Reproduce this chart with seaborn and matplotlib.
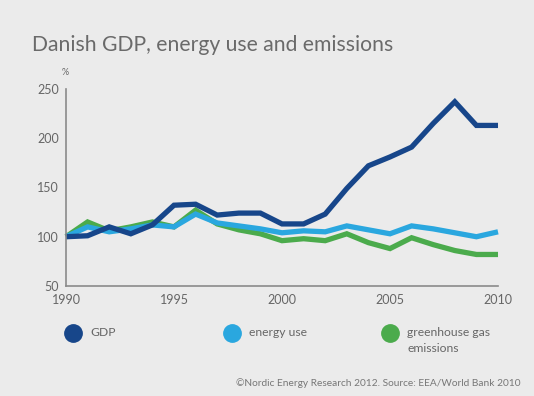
import matplotlib
matplotlib.use("Agg")
import matplotlib.pyplot as plt
import pandas as pd
import seaborn as sns
from matplotlib.lines import Line2D

# Данные (индекс, 1990 = 100)
years = list(range(1990, 2011))
gdp = [100, 101, 110, 103, 112, 132, 133, 122, 124, 124, 113,
       113, 123, 149, 172, 181, 191, 215, 237, 213, 213]
energy_use = [100, 110, 105, 108, 112, 110, 123, 114, 111, 108, 104,
              106, 105, 111, 107, 103, 111, 108, 104, 100, 105]
emissions = [100, 115, 106, 110, 115, 110, 127, 113, 107, 103, 96,
             98, 96, 103, 94, 88, 99, 92, 86, 82, 82]

series_names = ["GDP", "energy use", "greenhouse gas\nemissions"]
series_colors = ["#17468a", "#2aa7df", "#4bab4c"]

BG = "#ebebeb"
TXT = "#666666"


def build_frame():
    rows = []
    for name, vals in zip(series_names, [gdp, energy_use, emissions]):
        for y, v in zip(years, vals):
            rows.append({"year": y, "value": v, "series": name})
    return pd.DataFrame(rows)


def plot_chart(df):
    sns.set_theme(style="white")
    plt.rcParams["font.family"] = ["Lato", "DejaVu Sans"]

    fig = plt.figure(figsize=(5.34, 3.96), dpi=100, facecolor=BG)
    ax = fig.add_axes([0.1236, 0.2778, 0.809, 0.4975])
    ax.set_facecolor(BG)

    # рисуем в обратном порядке, чтобы GDP был сверху
    order = series_names[::-1]
    pal = dict(zip(series_names, series_colors))
    sns.lineplot(data=df, x="year", y="value", hue="series", hue_order=order,
                 palette=pal, linewidth=3.8, ax=ax, legend=False)
    for ln in ax.lines:
        ln.set_solid_joinstyle("miter")
        ln.set_solid_capstyle("butt")
        ln.set_clip_on(False)

    ax.set_xlim(1990, 2010)
    ax.set_ylim(50, 250)
    ax.set_xticks([1990, 1995, 2000, 2005, 2010])
    ax.set_yticks([50, 100, 150, 200, 250])
    ax.set_xlabel("")
    ax.set_ylabel("")

    for s in ["top", "right"]:
        ax.spines[s].set_visible(False)
    for s in ["left", "bottom"]:
        ax.spines[s].set_color("#8a8a8a")
        ax.spines[s].set_linewidth(1.2)

    ax.tick_params(axis="y", direction="in", length=8, width=1.2,
                   color="#8a8a8a", labelcolor=TXT, labelsize=9, pad=5)
    ax.tick_params(axis="x", length=0, labelcolor=TXT, labelsize=9, pad=6)

    # Заголовок и подписи
    fig.text(0.060, 0.887, "Danish GDP, energy use and emissions",
             fontsize=15.2, color="#6a6a6a", va="center")
    fig.text(0.122, 0.818, "%", fontsize=6.5, color=TXT, ha="center", va="center")

    # Легенда вручную
    marker_x = [0.137, 0.434, 0.730]
    for x, name, col in zip(marker_x, series_names, series_colors):
        fig.add_artist(Line2D([x], [0.159], marker="o", markersize=12.5,
                              color=col, linestyle="none",
                              transform=fig.transFigure))
        fig.text(x + 0.033, 0.1750, name, fontsize=8.7, color=TXT,
                 va="top", linespacing=1.6)

    fig.text(0.974, 0.020,
             "\u00a9Nordic Energy Research 2012. Source: EEA/World Bank 2010",
             fontsize=7.3, color="#777777", ha="right", va="bottom")

    fig.savefig("out.png", dpi=100, facecolor=BG)


if __name__ == "__main__":
    plot_chart(build_frame())
